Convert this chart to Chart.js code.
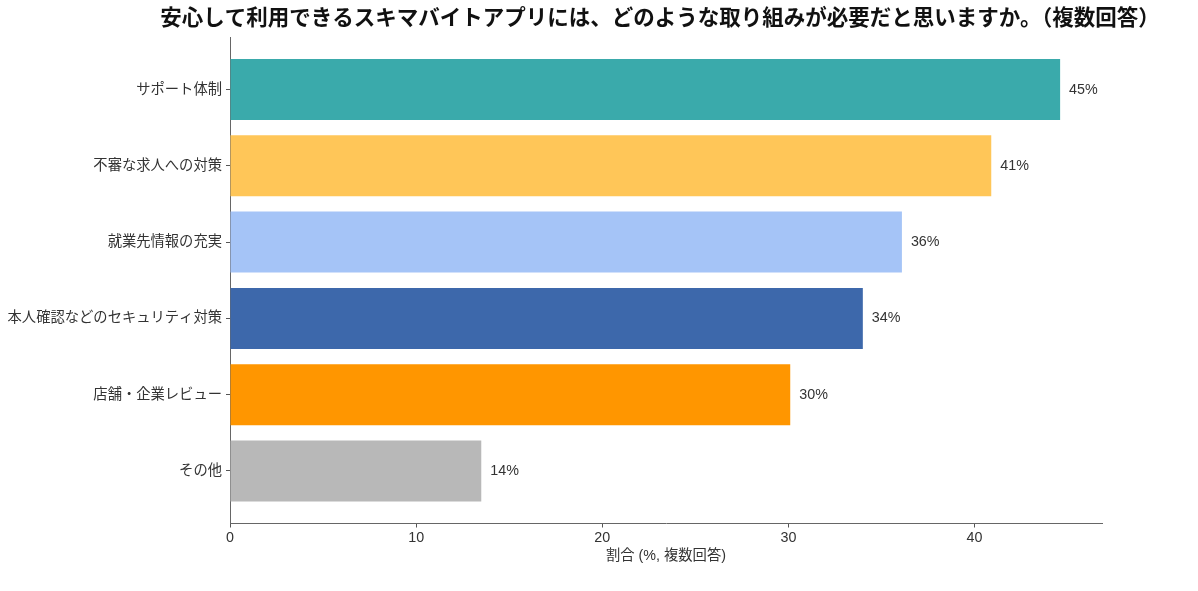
<!DOCTYPE html>
<html>
<head>
<meta charset="utf-8">
<script src="https://cdn.jsdelivr.net/npm/chart.js@4/dist/chart.umd.min.js"></script>
<style>
  html, body { margin: 0; padding: 0; background: #fff; }
  #wrap { width: 1198px; height: 591px; position: relative; }
</style>
</head>
<body>
<div id="wrap"><canvas id="c" width="1198" height="591"></canvas></div>
<script>
const titleText = '安心して利用できるスキマバイトアプリには、どのような取り組みが必要だと思いますか。（複数回答）';
const xAxisTitle = '割合 (%, 複数回答)';
const categories = ['サポート体制', '不審な求人への対策', '就業先情報の充実', '本人確認などのセキュリティ対策', '店舗・企業レビュー', 'その他'];
const values = [44.6, 40.9, 36.1, 34.0, 30.1, 13.5];
const barColors = ['#3AAAAB', '#FFC658', '#A5C4F7', '#3D68AB', '#FF9600', '#B8B8B8'];
const xTicks = [0, 10, 20, 30, 40];

const FONT = "'Liberation Sans', 'Noto Sans CJK JP', sans-serif";

const valueLabels = {
  id: 'valueLabels',
  afterDatasetsDraw(chart) {
    const ctx = chart.ctx;
    const meta = chart.getDatasetMeta(0);
    ctx.save();
    ctx.font = '14.3px ' + FONT;
    ctx.fillStyle = '#333333';
    ctx.textAlign = 'left';
    ctx.textBaseline = 'middle';
    meta.data.forEach((el, i) => {
      ctx.fillText(Math.round(values[i]) + '%', el.x + 9, el.y);
    });
    ctx.restore();
  }
};

const chartTitle = {
  id: 'chartTitle',
  afterDraw(chart) {
    const ctx = chart.ctx;
    ctx.save();
    ctx.font = 'bold 21.5px ' + FONT;
    ctx.fillStyle = '#111111';
    ctx.textAlign = 'center';
    ctx.textBaseline = 'middle';
    ctx.fillText(titleText, 660, 19);
    ctx.restore();
  }
};

new Chart(document.getElementById('c'), {
  type: 'bar',
  data: {
    datasets: [{
      data: values.map((v, i) => ({ x: v, y: i })),
      backgroundColor: barColors,
      borderWidth: 0,
      barPercentage: 0.8,
      categoryPercentage: 1.0
    }]
  },
  options: {
    indexAxis: 'y',
    responsive: false,
    animation: false,
    layout: { padding: { left: 0, right: 96, top: 37, bottom: 0 } },
    plugins: {
      legend: { display: false },
      tooltip: { enabled: false },
      title: { display: false }
    },
    scales: {
      x: {
        type: 'linear',
        min: 0,
        max: 46.85,
        offset: false,
        afterFit(scale) { scale.height = 67.5; },
        afterBuildTicks(scale) { scale.ticks = xTicks.map(v => ({ value: v })); },
        ticks: {
          includeBounds: false,
          color: '#333333',
          font: { family: FONT, size: 14.3 },
          padding: 2
        },
        grid: { offset: false, drawOnChartArea: false, drawTicks: true, tickLength: 4, color: '#555555' },
        border: { display: true, color: '#666666', width: 1 },
        title: {
          display: true,
          text: xAxisTitle,
          color: '#333333',
          font: { family: FONT, size: 14.3 },
          padding: { top: 4, bottom: 26 }
        }
      },
      y: {
        type: 'linear',
        reverse: true,
        offset: false,
        min: -0.69,
        max: 5.69,
        afterFit(scale) { scale.width = 230; },
        afterBuildTicks(scale) { scale.ticks = categories.map((c, i) => ({ value: i })); },
        ticks: {
          color: '#333333',
          font: { family: FONT, size: 14.3 },
          padding: 4,
          callback: (value) => categories[value]
        },
        grid: { offset: false, drawOnChartArea: false, drawTicks: true, tickLength: 4, color: '#555555' },
        border: { display: true, color: '#666666', width: 1 }
      }
    }
  },
  plugins: [valueLabels, chartTitle]
});
</script>
</body>
</html>
